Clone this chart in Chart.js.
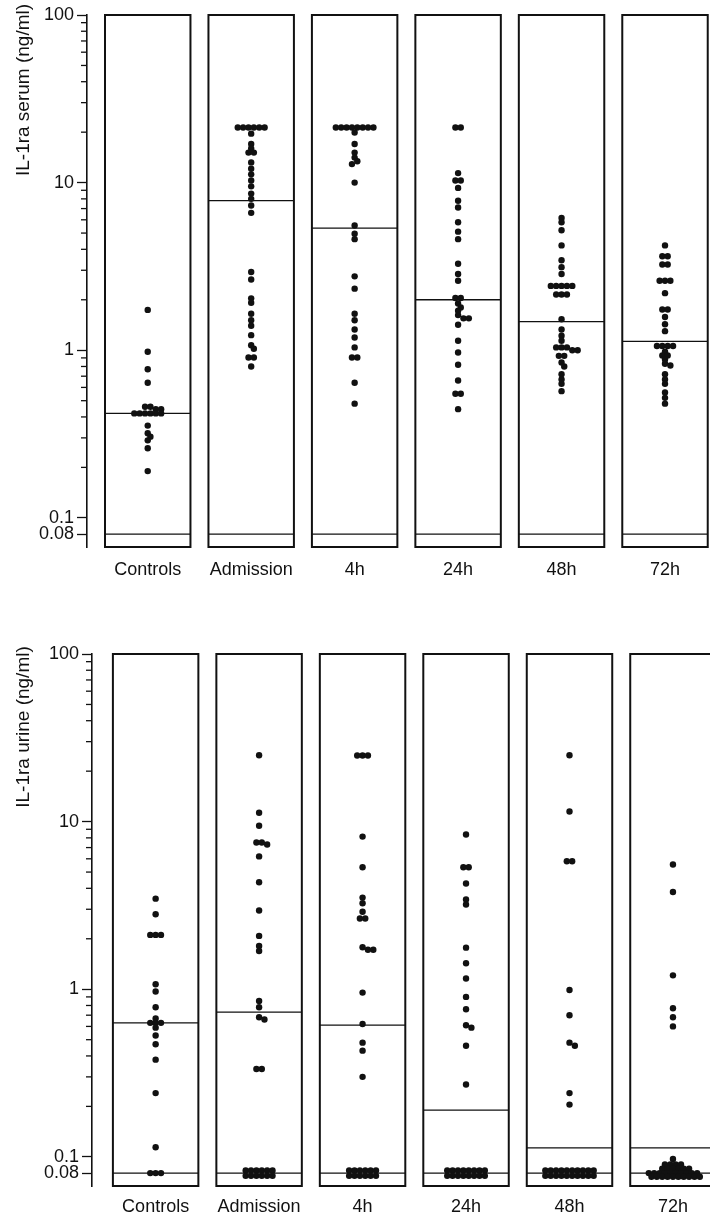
<!DOCTYPE html>
<html>
<head>
<meta charset="utf-8">
<script src="https://cdn.jsdelivr.net/npm/chart.js@4.4.1/dist/chart.umd.min.js"></script>
<style>
  html, body { margin: 0; padding: 0; background: #fff; }
  .panel { position: absolute; left: 0; width: 710px; }
  #top { top: 0; height: 605px; }
  #bottom { top: 605px; height: 613px; }
</style>
</head>
<body>
<div class="panel" id="top"><canvas id="serumChart" width="710" height="605"></canvas></div>
<div class="panel" id="bottom"><canvas id="urineChart" width="710" height="613"></canvas></div>
<script>
const categories = ['Controls', 'Admission', '4h', '24h', '48h', '72h'];
const tickValues = [0.08, 0.1, 1, 10, 100];
const tickLabels = ['0.08', '0.1', '1', '10', '100'];
const minorTicks = [0.2, 0.3, 0.4, 0.5, 0.6, 0.7, 0.8, 0.9, 2, 3, 4, 5, 6, 7, 8, 9, 20, 30, 40, 50, 60, 70, 80, 90];
const detectionLimit = 0.08;

// serum IL-1ra (ng/ml), one array per group
const serumControls = [1.74, 0.98, 0.77, 0.64, 0.46, 0.46, 0.445, 0.445, 0.42, 0.42, 0.42, 0.42, 0.42, 0.42, 0.355, 0.32, 0.305, 0.29, 0.26, 0.19];
const serumAdmission = [21.3, 21.3, 21.3, 21.3, 21.3, 21.3, 19.6, 17.0, 16.0, 15.1, 15.1, 13.2, 12.1, 11.2, 10.3, 9.5, 8.6, 8.0, 7.3, 6.6, 2.93, 2.64, 2.04, 1.92, 1.65, 1.51, 1.40, 1.23, 1.07, 1.02, 0.905, 0.905, 0.80];
const serum4h = [21.3, 21.3, 21.3, 21.3, 21.3, 21.3, 21.3, 21.3, 19.9, 17.0, 15.1, 14.1, 13.4, 12.9, 10.0, 5.55, 4.95, 4.6, 2.76, 2.33, 1.65, 1.51, 1.33, 1.19, 1.04, 0.905, 0.905, 0.64, 0.48];
const serum24h = [21.3, 21.3, 11.4, 10.3, 10.3, 9.3, 7.8, 7.1, 5.8, 5.1, 4.6, 3.28, 2.85, 2.6, 2.05, 2.05, 1.9, 1.8, 1.72, 1.62, 1.55, 1.55, 1.42, 1.14, 0.97, 0.82, 0.66, 0.55, 0.55, 0.445];
const serum48h = [6.16, 5.8, 5.2, 4.22, 3.44, 3.13, 2.85, 2.42, 2.42, 2.42, 2.42, 2.42, 2.15, 2.15, 2.15, 1.53, 1.33, 1.22, 1.14, 1.04, 1.04, 1.04, 1.0, 1.0, 0.926, 0.926, 0.845, 0.80, 0.72, 0.67, 0.63, 0.57];
const serum72h = [4.22, 3.64, 3.64, 3.25, 3.25, 2.6, 2.6, 2.6, 2.19, 1.75, 1.75, 1.58, 1.43, 1.30, 1.06, 1.06, 1.06, 1.06, 0.98, 0.93, 0.93, 0.88, 0.83, 0.81, 0.72, 0.67, 0.63, 0.56, 0.52, 0.48];
const serumMedians = [0.42, 7.8, 5.35, 2.0, 1.48, 1.13];

// urine IL-1ra (ng/ml)
const urineControls = [3.47, 2.8, 2.11, 2.11, 2.11, 1.07, 0.97, 0.78, 0.67, 0.63, 0.63, 0.63, 0.59, 0.53, 0.47, 0.38, 0.24, 0.114, 0.08, 0.08, 0.08];
const urineAdmission = [24.9, 11.3, 9.45, 7.5, 7.5, 7.3, 6.2, 4.35, 2.95, 2.08, 1.81, 1.69, 0.85, 0.78, 0.68, 0.66, 0.334, 0.334, 0.083, 0.083, 0.083, 0.083, 0.083, 0.083, 0.077, 0.077, 0.077, 0.077, 0.077, 0.077];
const urine4h = [24.8, 24.8, 24.8, 8.14, 5.34, 3.52, 3.26, 2.9, 2.64, 2.64, 1.78, 1.72, 1.72, 0.955, 0.62, 0.48, 0.43, 0.30, 0.083, 0.083, 0.083, 0.083, 0.083, 0.083, 0.077, 0.077, 0.077, 0.077, 0.077, 0.077];
const urine24h = [8.37, 5.34, 5.34, 4.27, 3.43, 3.2, 1.77, 1.43, 1.16, 0.90, 0.76, 0.61, 0.59, 0.46, 0.27, 0.083, 0.083, 0.083, 0.083, 0.083, 0.083, 0.083, 0.083, 0.077, 0.077, 0.077, 0.077, 0.077, 0.077, 0.077, 0.077];
const urine48h = [24.9, 11.5, 5.8, 5.8, 0.99, 0.70, 0.48, 0.46, 0.24, 0.205, 0.083, 0.083, 0.083, 0.083, 0.083, 0.083, 0.083, 0.083, 0.083, 0.083, 0.077, 0.077, 0.077, 0.077, 0.077, 0.077, 0.077, 0.077, 0.077, 0.077];
const urine72h = [5.55, 3.8, 1.21, 0.77, 0.68, 0.60, 0.097, 0.09, 0.09, 0.09, 0.09, 0.085, 0.085, 0.085, 0.085, 0.085, 0.085, 0.08, 0.08, 0.08, 0.08, 0.08, 0.08, 0.08, 0.08, 0.08, 0.08, 0.076, 0.076, 0.076, 0.076, 0.076, 0.076, 0.076, 0.076, 0.076, 0.076];
const urineMedians = [0.63, 0.73, 0.61, 0.19, 0.113, 0.113];

const ink = '#111';
const font = '"Liberation Sans", Arial, sans-serif';
const BOX_HALF = 0.413;
const DOT_GAP = 5.4;
const MIN_DIST = 4.2;

// spread dots sideways: equal values make a row, close values get nudged
function swarm(chart, groups) {
    const xs = chart.scales.x, ys = chart.scales.y;
    const unit = xs.getPixelForValue(1) - xs.getPixelForValue(0);
    const points = [];
    groups.forEach((values, i) => {
        const counts = new Map();
        values.forEach(v => counts.set(v, (counts.get(v) || 0) + 1));
        const rows = [...counts.entries()].sort((a, b) => b[0] - a[0]);
        const placed = [];
        rows.forEach(([v, n]) => {
            const py = ys.getPixelForValue(v);
            const base = [];
            for (let j = 0; j < n; j++) base.push((j - (n - 1) / 2) * DOT_GAP);
            let best = 0, bestGap = -1;
            for (let k = 0; k <= 10; k++) {
                const shift = (k % 2 ? 1 : -1) * Math.ceil(k / 2) * DOT_GAP / 2;
                let gap = Infinity;
                base.forEach(bx => placed.forEach(p => {
                    gap = Math.min(gap, Math.hypot(bx + shift - p.x, py - p.y));
                }));
                if (gap >= MIN_DIST) { best = shift; break; }
                if (gap > bestGap) { best = shift; bestGap = gap; }
            }
            base.forEach(bx => {
                placed.push({ x: bx + best, y: py });
                points.push({ x: i + (bx + best) / unit, y: v });
            });
        });
    });
    return points;
}

const boxPlugin = {
    id: 'boxes',
    beforeDatasetsDraw(chart, args, o) {
        const { ctx, chartArea } = chart;
        const xs = chart.scales.x, ys = chart.scales.y;
        ctx.save();
        ctx.strokeStyle = ink;
        o.medians.forEach((m, i) => {
            const l = xs.getPixelForValue(i - BOX_HALF);
            const r = xs.getPixelForValue(i + BOX_HALF);
            const t = ys.getPixelForValue(100);
            const b = chartArea.bottom;
            ctx.lineWidth = 2;
            ctx.strokeRect(l, t, r - l, b - t);
            ctx.lineWidth = 1.3;
            [m, detectionLimit].forEach(v => {
                const y = ys.getPixelForValue(v);
                ctx.beginPath();
                ctx.moveTo(l, y);
                ctx.lineTo(r, y);
                ctx.stroke();
            });
        });
        ctx.restore();
    },
    afterDraw(chart, args, o) {
        const { ctx, chartArea } = chart;
        const ys = chart.scales.y;
        ctx.save();
        ctx.strokeStyle = ink;
        ctx.lineWidth = 1.3;
        minorTicks.forEach(v => {
            const y = ys.getPixelForValue(v);
            ctx.beginPath();
            ctx.moveTo(chartArea.left - 6, y);
            ctx.lineTo(chartArea.left, y);
            ctx.stroke();
        });
        ctx.translate(o.titleX, o.titleY);
        ctx.rotate(-Math.PI / 2);
        ctx.fillStyle = ink;
        ctx.font = '19px ' + font;
        ctx.textAlign = 'center';
        ctx.textBaseline = 'middle';
        ctx.fillText(o.title, 0, 0);
        ctx.restore();
    }
};

function makePanel(id, groups, medians, title, p) {
    const chart = new Chart(document.getElementById(id), {
        type: 'scatter',
        data: {
            datasets: [{
                data: [],
                pointRadius: 3.2,
                pointHoverRadius: 3.2,
                backgroundColor: ink,
                borderWidth: 0
            }]
        },
        options: {
            responsive: false,
            animation: false,
            layout: { padding: { top: p.top, left: 0, right: 0, bottom: 0 } },
            plugins: {
                legend: { display: false },
                tooltip: { enabled: false },
                boxes: { medians: medians, title: title, titleX: 24, titleY: p.titleY }
            },
            scales: {
                x: {
                    type: 'linear',
                    min: p.xMin,
                    max: p.xMax,
                    grid: { display: false, drawTicks: false },
                    border: { display: false },
                    afterBuildTicks: s => { s.ticks = categories.map((c, i) => ({ value: i })); },
                    afterFit: s => { s.height = p.xHeight; },
                    ticks: {
                        autoSkip: false,
                        maxRotation: 0,
                        padding: p.labelPad,
                        color: ink,
                        font: { family: font, size: 18 },
                        callback: v => categories[v]
                    }
                },
                y: {
                    type: 'logarithmic',
                    min: 0.067,
                    max: 100,
                    afterBuildTicks: s => { s.ticks = tickValues.map(v => ({ value: v })); },
                    afterFit: s => { s.width = p.yWidth; },
                    grid: { drawOnChartArea: false, tickLength: 10, tickColor: ink, tickWidth: 1.3 },
                    border: { color: ink, width: 1.6 },
                    ticks: {
                        autoSkip: false,
                        padding: 3,
                        color: ink,
                        font: { family: font, size: 18 },
                        callback: (v, i) => tickLabels[i]
                    }
                }
            }
        },
        plugins: [boxPlugin]
    });
    chart.data.datasets[0].data = swarm(chart, groups);
    chart.update('none');
    return chart;
}

const serumChart = makePanel('serumChart',
    [serumControls, serumAdmission, serum4h, serum24h, serum48h, serum72h],
    serumMedians, 'IL-1ra serum (ng/ml)',
    { top: 15, xHeight: 58, yWidth: 87, xMin: -0.587, xMax: 5.404, labelPad: 12, titleY: 90 });

const urineChart = makePanel('urineChart',
    [urineControls, urineAdmission, urine4h, urine24h, urine48h, urine72h],
    urineMedians, 'IL-1ra urine (ng/ml)',
    { top: 49, xHeight: 32, yWidth: 92, xMin: -0.615, xMax: 5.327, labelPad: 10, titleY: 122 });
</script>
</body>
</html>
